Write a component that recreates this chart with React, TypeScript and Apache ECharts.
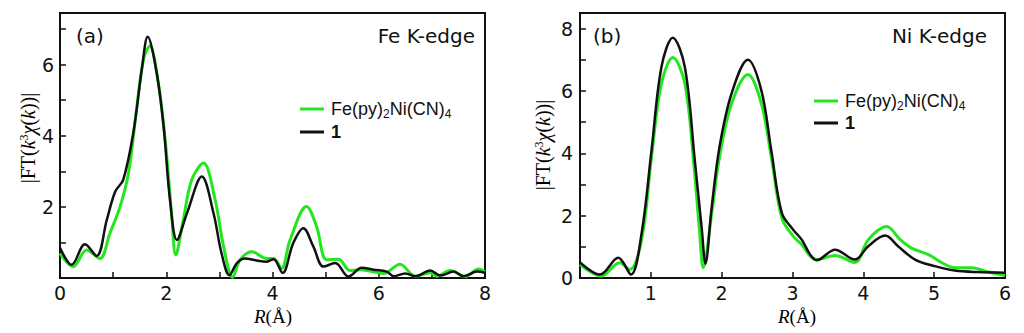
import React, { useEffect, useRef } from "react";
import * as echarts from "echarts";

// Panel (a): Fe K-edge
const feR_green = [0, 0.25, 0.5, 0.75, 0.94, 1.13, 1.29, 1.44, 1.57, 1.69, 1.85, 1.98, 2.1, 2.18, 2.32, 2.48, 2.7, 2.92, 3.08, 3.25, 3.39, 3.61, 3.89, 4.02, 4.17, 4.33, 4.64, 4.83, 5.02, 5.24, 5.46, 5.65, 6.09, 6.4, 6.69, 6.97, 7.09, 7.34, 7.63, 7.88, 8.0];
const feV_green = [0.69, 0.32, 0.79, 0.55, 1.26, 2.0, 2.95, 4.73, 6.14, 6.52, 5.48, 3.89, 1.82, 0.65, 1.63, 2.76, 3.23, 2.2, 0.88, 0.02, 0.51, 0.74, 0.55, 0.55, 0.27, 1.07, 2.01, 1.45, 0.51, 0.53, 0.21, 0.23, 0.13, 0.39, 0.05, 0.15, 0.05, 0.21, 0.04, 0.25, 0.18];
const feR_black = [0, 0.22, 0.47, 0.69, 0.88, 1.04, 1.19, 1.38, 1.54, 1.65, 1.82, 1.95, 2.07, 2.2, 2.39, 2.67, 2.89, 3.04, 3.19, 3.33, 3.48, 3.7, 3.89, 4.02, 4.19, 4.39, 4.58, 4.77, 4.96, 5.18, 5.43, 5.68, 5.9, 6.15, 6.28, 6.5, 6.69, 6.97, 7.16, 7.41, 7.6, 7.85, 8.0];
const feV_black = [0.85, 0.37, 0.95, 0.62, 1.63, 2.43, 2.76, 4.08, 5.86, 6.78, 5.77, 4.26, 2.2, 1.07, 1.82, 2.85, 1.82, 0.7, 0.08, 0.42, 0.55, 0.49, 0.46, 0.53, 0.14, 0.98, 1.4, 0.88, 0.32, 0.42, 0.04, 0.29, 0.23, 0.18, 0.05, 0.13, 0.05, 0.21, 0.07, 0.18, 0.05, 0.18, 0.15];

// Panel (b): Ni K-edge
const niR_green = [0, 0.3, 0.56, 0.7, 0.87, 1.01, 1.15, 1.31, 1.48, 1.61, 1.69, 1.74, 1.86, 1.97, 2.14, 2.37, 2.56, 2.7, 2.85, 3.01, 3.13, 3.25, 3.34, 3.6, 3.88, 4.07, 4.33, 4.52, 4.68, 4.92, 5.11, 5.29, 5.53, 5.77, 6.0];
const niV_green = [0.43, 0.06, 0.49, 0.27, 1.23, 3.89, 6.24, 7.07, 6.24, 3.57, 1.44, 0.33, 2.08, 3.89, 5.6, 6.53, 5.6, 3.89, 1.92, 1.34, 1.07, 0.7, 0.59, 0.72, 0.5, 1.23, 1.65, 1.23, 0.96, 0.75, 0.49, 0.33, 0.33, 0.19, 0.08];
const niR_black = [0, 0.28, 0.54, 0.72, 0.87, 1.01, 1.15, 1.31, 1.48, 1.62, 1.72, 1.77, 1.86, 1.97, 2.14, 2.37, 2.56, 2.7, 2.85, 3.01, 3.13, 3.25, 3.34, 3.6, 3.88, 4.07, 4.31, 4.49, 4.73, 5.01, 5.29, 5.62, 6.0];
const niV_black = [0.5, 0.11, 0.65, 0.11, 1.44, 4.1, 6.77, 7.71, 6.77, 3.79, 1.55, 0.46, 2.29, 4.21, 5.92, 7.0, 6.02, 4.1, 2.08, 1.55, 1.23, 0.75, 0.57, 0.91, 0.59, 1.02, 1.36, 1.02, 0.59, 0.38, 0.24, 0.19, 0.17];

const seriesNames = ["Fe(py)2Ni(CN)4", "1"];
const panelLabels = ["(a)", "(b)"];
const edgeLabels = ["Fe K-edge", "Ni K-edge"];

const GREEN = "#22e61e";
const BLACK = "#111111";
const SANS = "Liberation Sans, Arial, sans-serif";
const WIDE = "DejaVu Sans, Liberation Sans, sans-serif";
const SERIF = "Liberation Serif, Times New Roman, serif";
const pair = (xs: number[], ys: number[]) => xs.map((x, i) => [x, ys[i]]);

const isInt = (v: number) => Math.abs(v - Math.round(v)) < 1e-6;

export default function App() {
  const ref = useRef<HTMLDivElement>(null);
  useEffect(() => {
    if (!ref.current) return;
    const chart = echarts.init(ref.current, null, { renderer: "svg" });
    const grids = [
      { left: 60, top: 13, width: 425, height: 265 },
      { left: 580, top: 13, width: 425, height: 265 },
    ];
    const axisCommon = {
      axisLine: { show: true, onZero: false, lineStyle: { color: BLACK, width: 2 } },
      axisTick: { show: true, inside: true, length: 6, lineStyle: { color: BLACK, width: 1.5 } },
      splitLine: { show: false },
      axisLabel: { color: BLACK, fontSize: 19, fontFamily: WIDE },
    };
    const legendRich = {
      n: { fontSize: 18, fontFamily: SANS, color: BLACK, lineHeight: 22, verticalAlign: "middle" },
      s: { fontSize: 12, fontFamily: SANS, color: BLACK, lineHeight: 22, verticalAlign: "bottom", padding: [11, 0, 0, 0] },
      b: { fontSize: 18, fontWeight: "bold", fontFamily: SANS, color: BLACK, lineHeight: 22 },
    };
    const legendFmt = (name: string) =>
      name === seriesNames[0] ? "{n|Fe(py)}{s|2}{n|Ni(CN)}{s|4}" : "{b|" + name + "}";
    const mkLegend = (left: number, top: number, gap: number) => ({
      show: true,
      orient: "vertical",
      left,
      top,
      icon: "rect",
      itemWidth: 24,
      itemHeight: 3,
      itemGap: gap,
      padding: 0,
      selectedMode: false,
      data: seriesNames,
      formatter: legendFmt,
      textStyle: { rich: legendRich, padding: [0, 0, 0, 2] },
    });
    const tRich = {
      a: { fontFamily: SERIF, fontSize: 20, color: "#333" },
      i: { fontFamily: SERIF, fontSize: 20, fontStyle: "italic", color: "#333" },
      sup: { fontFamily: SERIF, fontSize: 12, color: "#333", verticalAlign: "top", padding: [0, 0, 9, 0] },
    };
    const xRich = {
      a: { fontFamily: SERIF, fontSize: 19, color: "#333" },
      i: { fontFamily: SERIF, fontSize: 19, fontStyle: "italic", color: "#333" },
    };
    const yTitle = "{a||FT(}{i|k}{sup|3}{i|χ}{a|(}{i|k}{a|))|}";
    const xTitle = "{i|R}{a|(Å)}";
    const mkText = (x: number, y: number, text: string, extra: any = {}) => ({
      type: "text",
      x,
      y,
      style: {
        text,
        fontSize: 20,
        fontFamily: WIDE,
        fill: BLACK,
        textVerticalAlign: "middle",
        ...extra,
      },
    });

    chart.setOption({
      animation: false,
      backgroundColor: "#ffffff",
      grid: grids.map((g) => ({ ...g, show: true, borderColor: BLACK, borderWidth: 2, backgroundColor: "transparent" })),
      xAxis: [
        {
          ...axisCommon,
          gridIndex: 0,
          type: "value",
          min: 0,
          max: 8,
          interval: 1,
          axisLabel: {
            ...axisCommon.axisLabel,
            margin: 5,
            formatter: (v: number) => (isInt(v) && Math.round(v) % 2 === 0 ? String(Math.round(v)) : ""),
          },
        },
        {
          ...axisCommon,
          gridIndex: 1,
          type: "value",
          min: 0,
          max: 6,
          interval: 1,
          axisLabel: {
            ...axisCommon.axisLabel,
            margin: 5,
            formatter: (v: number) => (isInt(v) && v > 0 ? String(Math.round(v)) : ""),
          },
        },
      ],
      yAxis: [
        {
          ...axisCommon,
          gridIndex: 0,
          type: "value",
          min: 0,
          max: 7.45,
          interval: 1,
          axisLabel: {
            ...axisCommon.axisLabel,
            margin: 6,
            formatter: (v: number) => (isInt(v) && v > 0 && Math.round(v) % 2 === 0 ? String(Math.round(v)) : ""),
          },
        },
        {
          ...axisCommon,
          gridIndex: 1,
          type: "value",
          min: 0,
          max: 8.5,
          interval: 1,
          axisLabel: {
            ...axisCommon.axisLabel,
            margin: 7,
            formatter: (v: number) => (isInt(v) && Math.round(v) % 2 === 0 ? String(Math.round(v)) : ""),
          },
        },
      ],
      legend: [mkLegend(300, 97, 3), mkLegend(814, 89, 2)],
      series: [
        { name: seriesNames[0], type: "line", xAxisIndex: 0, yAxisIndex: 0, data: pair(feR_green, feV_green), smooth: 0.35, symbol: "none", lineStyle: { color: GREEN, width: 3 }, itemStyle: { color: GREEN } },
        { name: seriesNames[1], type: "line", xAxisIndex: 0, yAxisIndex: 0, data: pair(feR_black, feV_black), smooth: 0.35, symbol: "none", lineStyle: { color: BLACK, width: 2.5 }, itemStyle: { color: BLACK } },
        { name: seriesNames[0], type: "line", xAxisIndex: 1, yAxisIndex: 1, data: pair(niR_green, niV_green), smooth: 0.35, symbol: "none", lineStyle: { color: GREEN, width: 3 }, itemStyle: { color: GREEN } },
        { name: seriesNames[1], type: "line", xAxisIndex: 1, yAxisIndex: 1, data: pair(niR_black, niV_black), smooth: 0.35, symbol: "none", lineStyle: { color: BLACK, width: 2.5 }, itemStyle: { color: BLACK } },
      ],
      graphic: [
        mkText(76, 36, panelLabels[0]),
        mkText(475, 36, edgeLabels[0], { textAlign: "right" }),
        mkText(593, 36, panelLabels[1]),
        mkText(987, 36, edgeLabels[1], { textAlign: "right" }),
        {
          type: "text",
          x: 28,
          y: 138,
          rotation: Math.PI / 2,
          style: { text: yTitle, rich: tRich, textAlign: "center", textVerticalAlign: "middle" },
        },
        {
          type: "text",
          x: 543,
          y: 145,
          rotation: Math.PI / 2,
          style: { text: yTitle, rich: tRich, textAlign: "center", textVerticalAlign: "middle" },
        },
        {
          type: "text",
          x: 273,
          y: 316,
          style: { text: xTitle, rich: xRich, textAlign: "center", textVerticalAlign: "middle" },
        },
        {
          type: "text",
          x: 797,
          y: 316,
          style: { text: xTitle, rich: xRich, textAlign: "center", textVerticalAlign: "middle" },
        },
      ],
    });
    return () => chart.dispose();
  }, []);
  return (
    <div
      ref={ref}
      style={{ position: "fixed", left: 0, top: 0, width: 1024, height: 333, background: "#fff" }}
    />
  );
}
